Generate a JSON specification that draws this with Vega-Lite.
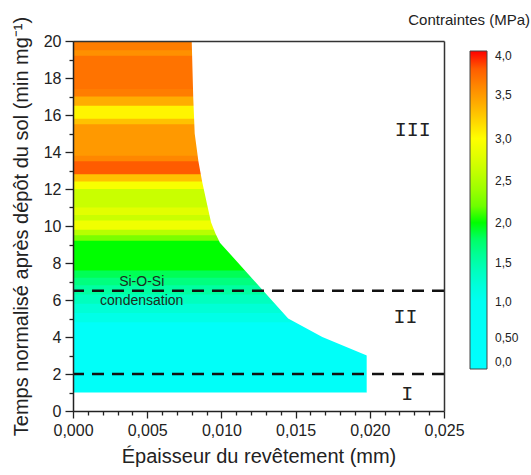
{
  "$schema": "https://vega.github.io/schema/vega-lite/v6.json",
  "width": 371,
  "height": 370,
  "autosize": {"type": "none"},
  "padding": {"left": 73, "top": 41, "right": 87, "bottom": 64},
  "title": {"text": "Contraintes (MPa)", "anchor": "end", "frame": "group", "dx": 86, "dy": 26, "offset": 14, "fontSize": 15, "fontWeight": "normal", "color": "#222"},
  "config": {"font": "Liberation Sans", "view": {"stroke": null}},
  "resolve": {"axis": {"x": "independent", "y": "independent"}},
  "datasets": {
    "bands": [
      {"y": 1.0, "s": 0.5},
      {"y": 4.8, "s": 1.1},
      {"y": 5.3, "s": 1.25},
      {"y": 5.8, "s": 1.4},
      {"y": 6.3, "s": 1.55},
      {"y": 6.8, "s": 1.7},
      {"y": 7.2, "s": 1.85},
      {"y": 7.6, "s": 2.0},
      {"y": 9.2, "s": 2.25},
      {"y": 9.5, "s": 2.55},
      {"y": 9.8, "s": 2.9},
      {"y": 10.3, "s": 2.65},
      {"y": 10.6, "s": 2.8},
      {"y": 11.0, "s": 2.65},
      {"y": 12.0, "s": 2.95},
      {"y": 12.4, "s": 3.3},
      {"y": 12.8, "s": 3.8},
      {"y": 13.5, "s": 3.6},
      {"y": 13.8, "s": 3.5},
      {"y": 15.5, "s": 3.3},
      {"y": 15.8, "s": 3.05},
      {"y": 16.5, "s": 3.4},
      {"y": 17.0, "s": 3.65},
      {"y": 17.4, "s": 3.7},
      {"y": 19.2, "s": 3.55},
      {"y": 19.5, "s": 3.65}
    ],
    "edge": [
      {"x": 0.0198, "y": 1.0},
      {"x": 0.0198, "y": 3.0},
      {"x": 0.0168, "y": 4.0},
      {"x": 0.0145, "y": 5.0},
      {"x": 0.0099, "y": 9.1},
      {"x": 0.0096, "y": 9.6},
      {"x": 0.0093, "y": 10.2},
      {"x": 0.0090, "y": 11.3},
      {"x": 0.0087, "y": 12.4},
      {"x": 0.00845, "y": 13.5},
      {"x": 0.0082, "y": 15.0},
      {"x": 0.0081, "y": 17.0},
      {"x": 0.0080, "y": 20.0}
    ],
    "limits": [{"y": 6.5}, {"y": 2.0}],
    "notes": [
      {"label": "Si-O-Si", "x": 0.00463, "y": 7.0},
      {"label": "condensation", "x": 0.00463, "y": 5.95}
    ],
    "stages": [
      {"label": "III", "x": 0.0229, "y": 15.2},
      {"label": "II", "x": 0.0224, "y": 5.1},
      {"label": "I", "x": 0.02252, "y": 0.9}
    ]
  },
  "layer": [
    {
      "data": {"name": "bands"},
      "mark": {"type": "rect"},
      "encoding": {
        "x": {"datum": 0, "type": "quantitative", "axis": null},
        "x2": {"datum": 0.0198},
        "y": {"field": "y", "type": "quantitative", "axis": null},
        "y2": {"datum": 20},
        "color": {"field": "s", "type": "quantitative",
          "scale": {"type": "pow", "exponent": 1.12, "domain": [0, 1.0, 2.0, 3.0, 3.5, 4.0], "range": ["#00FFFF", "#00FFF2", "#00FF00", "#FFFF00", "#FF9900", "#FF0000"]},
          "legend": {
            "type": "gradient",
            "orient": "none", "legendX": 397, "legendY": 10, "direction": "vertical",
            "gradientLength": 318, "gradientThickness": 17, "title": null,
            "values": [0, 0.5, 1, 1.5, 2, 2.5, 3, 3.5, 4],
            "labelExpr": "datum.value == 0.5 ? '0,50' : replace(format(datum.value, '.1f'), '.', ',')",
            "labelFontSize": 12, "labelColor": "#222", "labelOverlap": false, "labelOffset": 8,
            "gradientStrokeColor": "#444", "gradientStrokeWidth": 1
          }}
      }
    },
    {
      "data": {"name": "edge"},
      "mark": {"type": "area", "orient": "horizontal", "color": "white"},
      "encoding": {
        "x": {"field": "x", "type": "quantitative", "scale": {"domain": [0, 0.025], "nice": false, "zero": false},
          "title": "Épaisseur du revêtement (mm)",
          "axis": {
            "orient": "bottom", "zindex": 1,
            "values": [0, 0.005, 0.01, 0.015, 0.02, 0.025],
            "labelExpr": "replace(format(datum.value, '.3f'), '.', ',')",
            "tickSize": 7,
            "labelOverlap": false, "labelFlush": false, "grid": false,
            "labelFontSize": 16, "labelColor": "#222", "labelPadding": 4,
            "titleFontSize": 20, "titleFontWeight": "normal", "titleColor": "#222", "titlePadding": 8,
            "domainColor": "#222", "domainWidth": 1.5, "tickColor": "#222", "tickWidth": 1.3
          }},
        "x2": {"datum": 0.0206},
        "y": {"field": "y", "type": "quantitative", "scale": {"domain": [0, 20], "nice": false},
          "title": "Temps normalisé après dépôt du sol (min mg⁻¹)",
          "axis": {
            "orient": "left", "zindex": 1,
            "values": [0, 2, 4, 6, 8, 10, 12, 14, 16, 18, 20],
            "format": "d",
            "tickSize": 8,
            "labelOverlap": false, "grid": false,
            "labelFontSize": 16, "labelColor": "#222", "labelPadding": 4,
            "titleFontSize": 20, "titleFontWeight": "normal", "titleColor": "#222", "titlePadding": 12,
            "domainColor": "#222", "domainWidth": 1.5, "tickColor": "#222", "tickWidth": 1.3
          }}
      }
    },
    {
      "data": {"name": "limits"},
      "mark": {"type": "rule", "strokeDash": [12, 8], "strokeWidth": 2.5, "color": "#111"},
      "encoding": {"y": {"field": "y", "type": "quantitative",
        "axis": {"orient": "left", "zindex": 1, "values": [1, 3, 5, 7, 9, 11, 13, 15, 17, 19], "labels": false, "domain": false, "grid": false, "title": null, "tickSize": 4, "tickColor": "#222", "tickWidth": 1.3}}}
    },
    {
      "data": {"name": "notes"},
      "mark": {"type": "text", "fontSize": 14, "color": "#1c2b22", "baseline": "middle", "align": "center"},
      "encoding": {
        "x": {"field": "x", "type": "quantitative",
          "axis": {"orient": "bottom", "zindex": 1, "values": [0.001, 0.002, 0.003, 0.004, 0.006, 0.007, 0.008, 0.009, 0.011, 0.012, 0.013, 0.014, 0.016, 0.017, 0.018, 0.019, 0.021, 0.022, 0.023, 0.024], "labels": false, "domain": false, "grid": false, "title": null, "tickSize": 4, "tickColor": "#222", "tickWidth": 1.3}},
        "y": {"field": "y", "type": "quantitative", "axis": null},
        "text": {"field": "label"}
      }
    },
    {
      "data": {"name": "stages"},
      "mark": {"type": "text", "fontSize": 20, "font": "Liberation Mono", "color": "#222", "baseline": "middle", "align": "center"},
      "encoding": {
        "x": {"field": "x", "type": "quantitative",
          "axis": {"orient": "top", "zindex": 1, "labels": false, "ticks": false, "grid": false, "title": null, "domain": true, "domainColor": "#333", "domainWidth": 1.5}},
        "y": {"field": "y", "type": "quantitative",
          "axis": {"orient": "right", "zindex": 1, "labels": false, "ticks": false, "grid": false, "title": null, "domain": true, "domainColor": "#333", "domainWidth": 1.5}},
        "text": {"field": "label"}
      }
    }
  ]
}
